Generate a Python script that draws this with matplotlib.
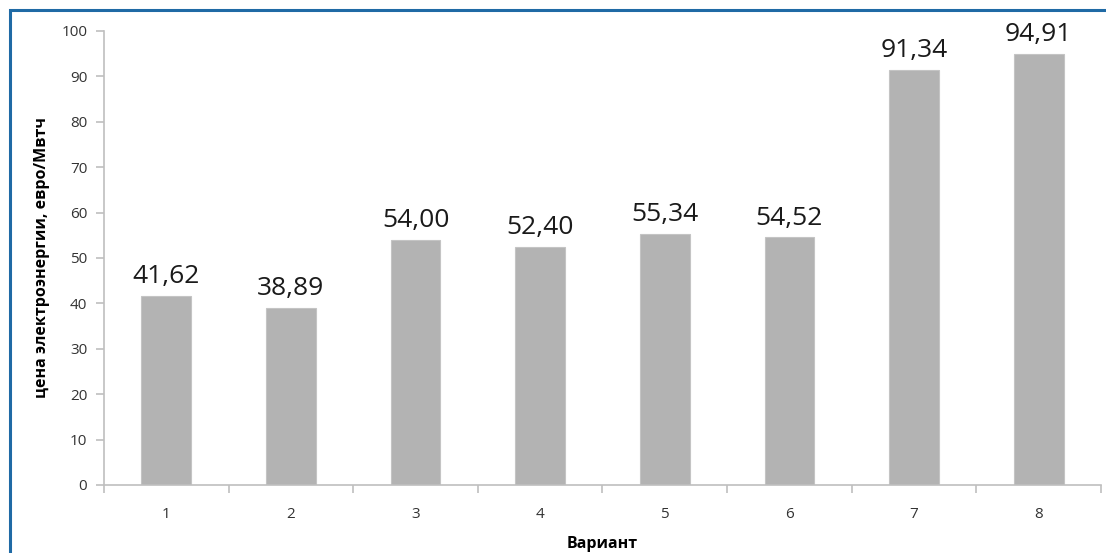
import matplotlib.pyplot as plt
from matplotlib.patches import Rectangle
import numpy as np

variants = ["1", "2", "3", "4", "5", "6", "7", "8"]
prices = [41.62, 38.89, 54.00, 52.40, 55.34, 54.52, 91.34, 94.91]
labels = ["41,62", "38,89", "54,00", "52,40", "55,34", "54,52", "91,34", "94,91"]

plt.rcParams['font.family'] = ['Open Sans', 'DejaVu Sans']

fig = plt.figure(figsize=(11.06, 5.53), dpi=100)
ax = fig.add_axes([0.094, 0.123, 0.9015, 0.821])

x = np.arange(1, len(prices) + 1)
ax.bar(x, prices, width=0.4, color='#b3b3b3', edgecolor='#c4c4c4', linewidth=0.8)

for xi, v, lab in zip(x, prices, labels):
    ax.annotate(lab, (xi, v), xytext=(0, 5), textcoords='offset points',
                ha='center', va='bottom', fontsize=19, color='#1a1a1a')

ax.set_xlim(0.5, 8.5)
ax.set_ylim(0, 100)
ax.set_yticks(range(0, 101, 10))
ax.set_xticks(x)
ax.set_xticklabels(variants)
ax.set_xticks(np.arange(0.5, 9, 1), minor=True)
ax.tick_params(axis='x', which='major', length=0, pad=16, labelsize=11, labelcolor='#333333')
ax.tick_params(axis='x', which='minor', length=6, color='#bfbfbf', width=1.2)
ax.tick_params(axis='y', length=6, color='#bfbfbf', width=1.2, labelsize=11,
               labelcolor='#333333', pad=6)

for s in ['top', 'right']:
    ax.spines[s].set_visible(False)
for s in ['left', 'bottom']:
    ax.spines[s].set_color('#bfbfbf')
    ax.spines[s].set_linewidth(1.2)

ax.set_ylabel("цена электроэнергии, евро/Мвтч", fontsize=11.5, fontweight='bold', labelpad=8)
ax.set_xlabel("Вариант", fontsize=11.5, fontweight='bold', labelpad=10)

# blue frame
fig.patches.append(Rectangle((10 / 1106, -0.05), 1.2, 1 - 10 / 553 + 0.05,
                             transform=fig.transFigure, fill=False,
                             edgecolor='#1f6aa5', linewidth=2.2))

fig.savefig("out.png", dpi=100)
